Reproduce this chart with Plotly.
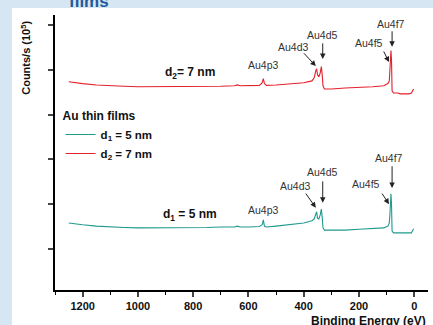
import plotly.graph_objects as go

# Binding energy (eV) sample points
energy_d2 = [1250, 1230, 1200, 1150, 1100, 1050, 1000, 950, 900, 850, 800, 750, 700, 650, 640, 630, 600,
             560, 550, 546, 542, 535, 500, 450, 400, 370, 362, 356, 353, 350, 345, 340, 336, 333, 330,
             325, 300, 250, 200, 150, 110, 95, 90, 88, 86, 84, 82, 80, 75, 60, 50, 20, 10, 5, 2]
counts_d2 = [4.73, 4.71, 4.69, 4.66, 4.64, 4.63, 4.62, 4.62, 4.62, 4.62, 4.62, 4.63, 4.63, 4.64, 4.66, 4.64, 4.64,
             4.65, 4.71, 4.80, 4.69, 4.65, 4.66, 4.69, 4.71, 4.75, 4.82, 4.98, 5.02, 4.89, 4.84, 4.93, 5.07, 4.89, 4.64,
             4.57, 4.57, 4.59, 4.60, 4.62, 4.64, 4.69, 4.75, 4.93, 5.20, 5.43, 5.20, 4.53, 4.48, 4.48, 4.46, 4.46, 4.48, 4.55, 4.57]

energy_d1 = [1250, 1230, 1200, 1150, 1100, 1050, 1000, 950, 900, 880, 850, 800, 750, 700, 650, 640, 630, 600,
             560, 550, 546, 542, 535, 500, 450, 400, 370, 362, 356, 353, 350, 345, 340, 336, 333, 330,
             325, 300, 250, 200, 150, 110, 95, 90, 88, 86, 84, 82, 80, 75, 60, 50, 20, 10, 5, 2]
counts_d1 = [1.58, 1.56, 1.54, 1.51, 1.49, 1.48, 1.47, 1.47, 1.47, 1.48, 1.47, 1.47, 1.48, 1.49, 1.49, 1.51, 1.49, 1.49,
             1.50, 1.54, 1.65, 1.51, 1.49, 1.51, 1.54, 1.58, 1.63, 1.67, 1.78, 1.83, 1.69, 1.67, 1.76, 1.89, 1.71, 1.47,
             1.42, 1.42, 1.42, 1.44, 1.45, 1.47, 1.51, 1.58, 1.76, 1.98, 2.23, 1.98, 1.40, 1.36, 1.36, 1.35, 1.35, 1.36, 1.42, 1.45]

x_ticks = [1200, 1000, 800, 600, 400, 200, 0]
y_ticks = [1, 2, 3, 4, 5, 6]

# peak labels: (text, label x, label y, arrow tail x, tail y, head x, head y)
labels_d2 = [("Au4p3", 545, 5.11, None, None, None, None),
             ("Au4d3", 436, 5.51, 404, 5.40, 356, 5.08),
             ("Au4d5", 331, 5.78, 331, 5.62, 331, 5.24),
             ("Au4f5", 164, 5.60, 113, 5.44, 91, 5.17),
             ("Au4f7", 84, 6.02, 80, 5.89, 80, 5.51)]
labels_d1 = [("Au4p3", 545, 1.87, None, None, None, None),
             ("Au4d3", 429, 2.41, 396, 2.27, 356, 1.92),
             ("Au4d5", 331, 2.72, 331, 2.54, 331, 2.03),
             ("Au4f5", 175, 2.45, 120, 2.27, 91, 2.00),
             ("Au4f7", 91, 3.03, 80, 2.88, 80, 2.36)]

FONT = "Liberation Sans, Arial, sans-serif"
RED = "#e3202c"
TEAL = "#1e9a8f"

fig = go.Figure()
fig.add_trace(go.Scatter(x=energy_d1, y=counts_d1, mode="lines", name="<b>d<sub>1</sub> = 5 nm</b>",
                         line=dict(color=TEAL, width=1.1)))
fig.add_trace(go.Scatter(x=energy_d2, y=counts_d2, mode="lines", name="<b>d<sub>2</sub> = 7 nm</b>",
                         line=dict(color=RED, width=1.1)))

ann = []
for labels in (labels_d2, labels_d1):
    for t, lx, ly, tx, ty, hx, hy in labels:
        ann.append(dict(x=lx, y=ly, xref="x", yref="y", text=t, showarrow=False,
                        font=dict(family=FONT, size=10.5, color="#333333")))
        if tx is not None:
            ann.append(dict(x=hx, y=hy, ax=tx, ay=ty, xref="x", yref="y", axref="x", ayref="y",
                            text="", showarrow=True, arrowhead=2, arrowsize=1.1, arrowwidth=1,
                            arrowcolor="#222222"))

ann.append(dict(x=811, y=4.93, xref="x", yref="y", text="<b>d<sub>2</sub>= 7 nm</b>", showarrow=False,
                font=dict(family=FONT, size=12, color="#111111")))
ann.append(dict(x=811, y=1.76, xref="x", yref="y", text="<b>d<sub>1</sub> = 5 nm</b>", showarrow=False,
                font=dict(family=FONT, size=12, color="#111111")))
ann.append(dict(x=-0.08, y=0.845, xref="paper", yref="paper", xanchor="center", yanchor="middle",
                text="<b>Counts/s (10<sup>5</sup>)</b>",
                textangle=-90, showarrow=False, font=dict(family=FONT, size=11, color="#111111")))
ann.append(dict(x=1.0, y=-0.08, xref="paper", yref="paper", xanchor="right", yanchor="top",
                text="<b>Binding Energy (eV)</b>", showarrow=False,
                font=dict(family=FONT, size=12, color="#111111")))
ann.append(dict(x=0.033, y=1.05, xref="paper", yref="paper", xanchor="left", yanchor="middle",
                text="<b>films</b>", showarrow=False, font=dict(family=FONT, size=17, color="#1f5b9c")))

fig.update_layout(
    width=433, height=325,
    margin=dict(l=55, r=5, t=15, b=35),
    paper_bgcolor="#d6e6f2",
    plot_bgcolor="rgba(0,0,0,0)",
    showlegend=True,
    legend=dict(x=0.015, y=0.675, xanchor="left", yanchor="top", bgcolor="rgba(0,0,0,0)",
                title=dict(text="<b>Au thin films</b>", font=dict(family=FONT, size=12, color="#111111")),
                font=dict(family=FONT, size=11.5, color="#111111"), itemwidth=30, tracegroupgap=0),
    shapes=[dict(type="rect", xref="paper", yref="paper", x0=-0.1153, x1=1.02, y0=-0.128, y1=1.0255,
                 fillcolor="white", line=dict(width=0), layer="below")],
    annotations=ann,
    xaxis=dict(range=[1300, -50], tickvals=x_ticks, ticks="outside", ticklen=5, tickwidth=1.5,
               showline=True, linewidth=2, linecolor="black", showgrid=False, zeroline=False,
               tickfont=dict(family=FONT, size=11, color="#111111", weight="bold"),
               minor=dict(dtick=100, tick0=0, ticks="outside", ticklen=3, tickwidth=1.2, tickcolor="black")),
    yaxis=dict(range=[0.085, 6.22], tickvals=y_ticks, ticks="outside", ticklen=5, tickwidth=1.5,
               showticklabels=False, showline=True, linewidth=2, linecolor="black",
               showgrid=False, zeroline=False),
)

fig.write_html("out.html")
